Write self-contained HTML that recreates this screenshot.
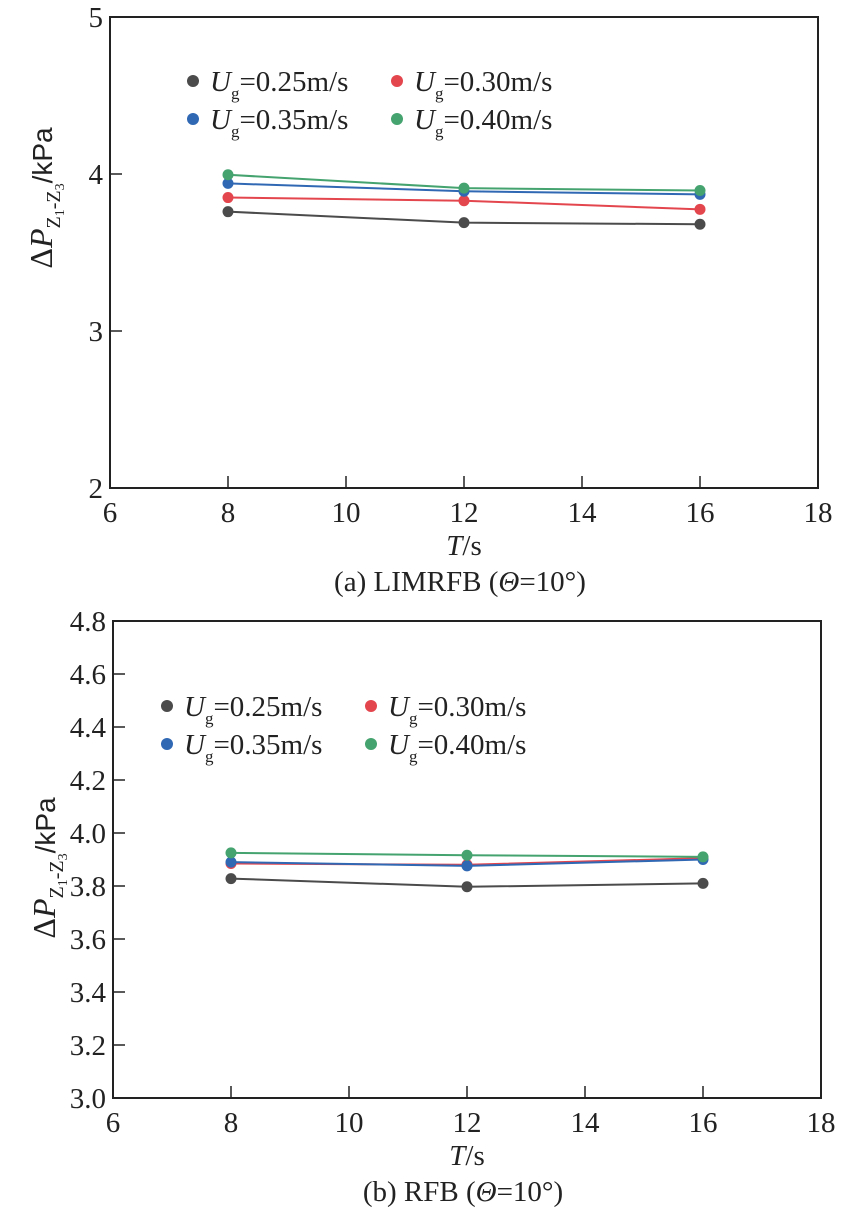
<!DOCTYPE html>
<html><head><meta charset="utf-8">
<style>
html,body{margin:0;padding:0;background:#fff;}
svg{display:block;font-family:"Liberation Serif",serif;}
</style></head>
<body>
<svg id="fig" width="851" height="1218" viewBox="0 0 851 1218" xmlns="http://www.w3.org/2000/svg"></svg>
<script>
const categoriesT = [8, 12, 16];
const seriesNames = ["0.25", "0.30", "0.35", "0.40"];
const colors = ["#4b4b4b", "#e4464e", "#3068b4", "#44a36f"];
const aGray = [3.76, 3.69, 3.68];
const aRed = [3.85, 3.83, 3.775];
const aBlue = [3.94, 3.89, 3.87];
const aGreen = [3.995, 3.91, 3.895];
const bGray = [3.828, 3.797, 3.81];
const bRed = [3.885, 3.88, 3.905];
const bBlue = [3.89, 3.876, 3.9];
const bGreen = [3.925, 3.916, 3.91];
const xTicks = [6, 8, 10, 12, 14, 16, 18];
const aYTicks = [2, 3, 4, 5];
const bYTicks = [3.0, 3.2, 3.4, 3.6, 3.8, 4.0, 4.2, 4.4, 4.6, 4.8];

const NS = "http://www.w3.org/2000/svg";
const svg = document.getElementById("fig");
function mk(tag, attrs, parent) {
  const e = document.createElementNS(NS, tag);
  for (const k in attrs) e.setAttribute(k, attrs[k]);
  (parent || svg).appendChild(e);
  return e;
}

function chart(p) {
  const g = mk("g", {});
  
  
  const sx = v => p.x0 + (v - 6) / 12 * (p.x1 - p.x0);
  const sy = v => p.y1 - (v - p.ymin) / (p.ymax - p.ymin) * (p.y1 - p.y0);
  const frame = mk("rect", {x: p.x0, y: p.y0, width: p.x1 - p.x0, height: p.y1 - p.y0, fill: "none", stroke: "#222", "stroke-width": 2}, g);
  
  
  xTicks.forEach(t => {
    const x = sx(t);
    const l = mk("line", {x1: x, x2: x, y1: p.y1, y2: p.y1 - 12, stroke: "#222", "stroke-width": 1.5}, g);
    
    
    const tx = mk("text", {x: x, y: p.y1 + 34, "text-anchor": "middle", "font-size": 29, fill: "#222"}, g);
    
    
    tx.textContent = t;
  });
  p.yTicks.forEach(t => {
    const y = sy(t);
    const l = mk("line", {x1: p.x0, x2: p.x0 + 12, y1: y, y2: y, stroke: "#222", "stroke-width": 1.5}, g);
    
    
    const tx = mk("text", {x: p.x0 - 7, y: y + 10, "text-anchor": "end", "font-size": 29, fill: "#222"}, g);
    
    
    tx.textContent = p.fmt(t);
  });
  p.series.forEach((s, i) => {
    const pts = categoriesT.map((c, j) => sx(c) + "," + sy(s[j])).join(" ");
    const pl = mk("polyline", {points: pts, fill: "none", stroke: colors[i], "stroke-width": 2}, g);
    
    
    categoriesT.forEach((c, j) => {
      const d = mk("circle", {cx: sx(c), cy: sy(s[j]), r: 5.5, fill: colors[i]}, g);
      
      
    });
  });
  const lx = [p.lx, p.lx + 204], ly = [p.ly, p.ly + 38];
  const order = [[0, 0, 0], [1, 1, 0], [2, 0, 1], [3, 1, 1]];
  order.forEach(([i, c, r]) => {
    const lg = mk("g", {}, g);
    
    
    mk("circle", {cx: lx[c], cy: ly[r], r: 6, fill: colors[i]}, lg);
    const t = mk("text", {x: lx[c] + 17, y: ly[r] + 10, "font-size": 29, fill: "#222"}, lg);
    t.innerHTML = '<tspan font-style="italic">U</tspan><tspan font-size="17" dy="8">g</tspan><tspan dy="-8">=' + seriesNames[i] + 'm/s</tspan>';
  });
  const xt = mk("text", {x: (p.x0 + p.x1) / 2, y: p.y1 + 67, "text-anchor": "middle", "font-size": 29, fill: "#222"}, g);
  
  
  xt.innerHTML = '<tspan font-style="italic">T</tspan>/s';
  const yt = mk("text", {x: 0, y: 0, "text-anchor": "middle", "font-size": 32, fill: "#222", transform: "translate(" + (p.x0 - 58) + "," + p.yc + ") rotate(-90)"}, g);
  
  
  yt.innerHTML = 'Δ<tspan font-style="italic">P</tspan><tspan font-size="20" dy="8">Z</tspan><tspan font-size="14" dy="4">1</tspan><tspan font-size="20" dy="-4">-Z</tspan><tspan font-size="14" dy="4">3</tspan><tspan dy="-12" font-family="Liberation Sans, sans-serif" font-size="28">/kPa</tspan>';
  const cap = mk("text", {x: (p.x0 + p.x1) / 2 - 4, y: p.y1 + 103, "text-anchor": "middle", "font-size": 29, fill: "#222"}, g);
  
  
  cap.innerHTML = p.caption;
}

chart({name: "chart-a", x0: 110, x1: 818, y0: 17, y1: 488, ymin: 2, ymax: 5, yTicks: aYTicks, yc: 198,
  fmt: t => String(t), series: [aGray, aRed, aBlue, aGreen], lx: 193, ly: 81,
  caption: '(a) LIMRFB (<tspan font-style="italic">Θ</tspan>=10°)'});
chart({name: "chart-b", x0: 113, x1: 821, y0: 621, y1: 1098, ymin: 3.0, ymax: 4.8, yTicks: bYTicks, yc: 868,
  fmt: t => t.toFixed(1), series: [bGray, bRed, bBlue, bGreen], lx: 167, ly: 706,
  caption: '(b) RFB (<tspan font-style="italic">Θ</tspan>=10°)'});
</script>
</body></html>
